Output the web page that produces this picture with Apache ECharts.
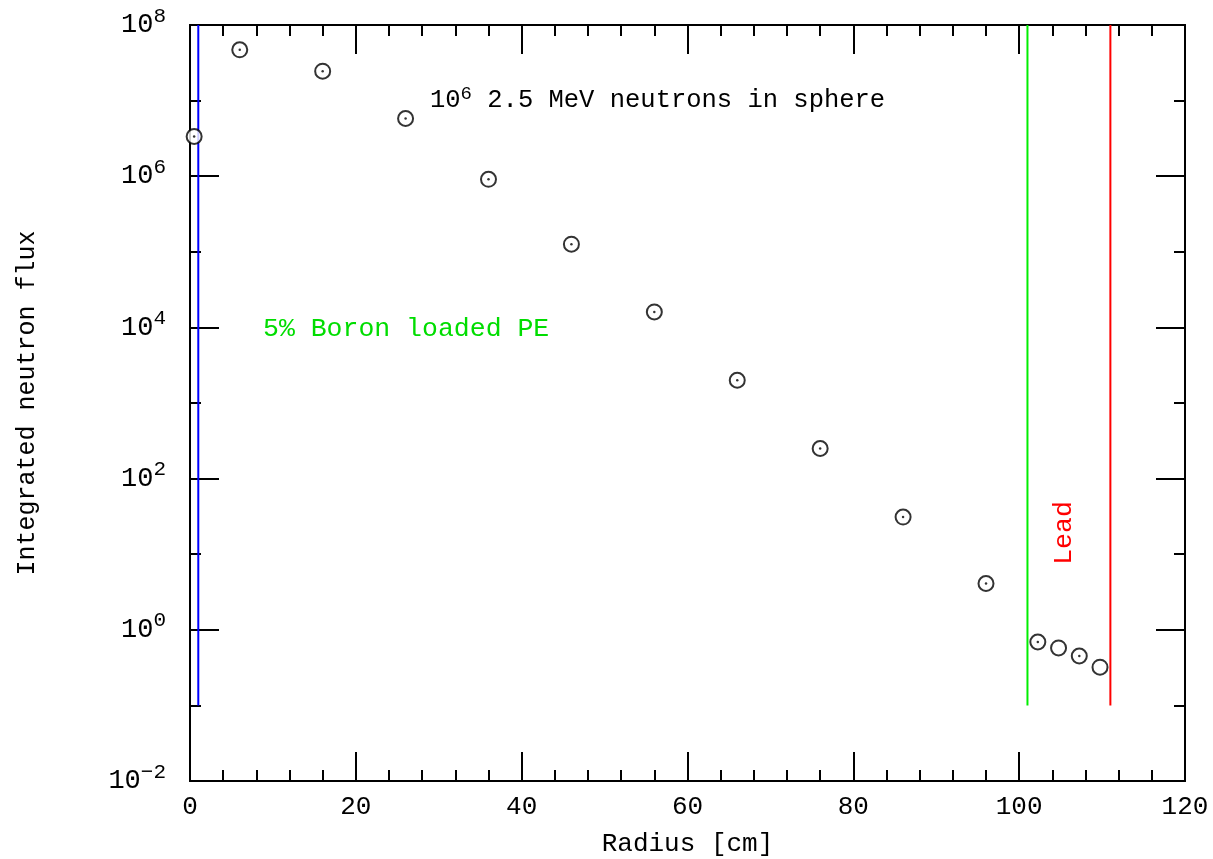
<!DOCTYPE html>
<html><head><meta charset="utf-8">
<script src="https://cdn.jsdelivr.net/npm/echarts@6/dist/echarts.min.js"></script>
<style>html,body{margin:0;padding:0;background:#fff}#c{width:1213px;height:859px}</style>
</head><body><div id="c"></div>
<script>
const radius = [0.5, 6, 16, 26, 36, 46, 56, 66, 76, 86, 96, 102.25, 104.75, 107.25, 109.75];
const flux = [3.35e6, 4.7e7, 2.45e7, 5.8e6, 9.1e5, 1.26e5, 1.6e4, 2.0e3, 250, 31, 4.1, 0.69, 0.575, 0.45, 0.32];
const centerDot = [1,1,1,1,1,1,1,1,1,1,1,1,0,1,0];
const boundaryX = [1, 101, 111];
const boundaryColor = ['#0000ff', '#00ee00', '#ff0000'];
const boundaryY = [0.1, 1e8];
const xTicks = {min: 0, max: 120, interval: 20};
const yRange = {min: 0.01, max: 1e8};

const FONT = 'Liberation Mono';
const chart = echarts.init(document.getElementById('c'), null, {renderer: 'canvas'});

const yLabel = v => {
  const e = Math.round(Math.log10(v));
  return '{b|10}{s|' + (e < 0 ? '\u2212' + (-e) : e) + '}';
};
const richY = {
  b: {fontFamily: FONT, fontSize: 27, color: '#000'},
  s: {fontFamily: FONT, fontSize: 21, color: '#000', padding: [0, 0, 18, 0]}
};
const lineStyle = {color: '#000', width: 2};

function yAx(pos, major) {
  return {
    type: 'log', logBase: 10, min: yRange.min, max: yRange.max, position: pos,
    interval: major ? 2 : 1,
    axisLine: {show: true, lineStyle},
    axisTick: {show: true, inside: true, length: major ? 29 : 11, lineStyle},
    axisLabel: {show: major && pos === 'left', formatter: yLabel, rich: richY, margin: 24},
    splitLine: {show: false},
    name: (major && pos === 'left') ? 'Integrated neutron flux' : '',
    nameLocation: 'middle', nameGap: 150, nameRotate: 90,
    nameTextStyle: {fontFamily: FONT, fontSize: 25, color: '#000'}
  };
}
function xAx(pos) {
  return {
    type: 'value', min: xTicks.min, max: xTicks.max, interval: xTicks.interval, position: pos,
    axisLine: {show: true, lineStyle},
    axisTick: {show: true, inside: true, length: 29, lineStyle},
    minorTick: {show: true, splitNumber: 5, length: 11, lineStyle},
    axisLabel: {show: pos === 'bottom', fontFamily: FONT, fontSize: 26, color: '#000', margin: 13},
    splitLine: {show: false}, minorSplitLine: {show: false},
    name: pos === 'bottom' ? 'Radius [cm]' : '',
    nameLocation: 'middle', nameGap: 50,
    nameTextStyle: {fontFamily: FONT, fontSize: 26, color: '#000'}
  };
}

const pts = radius.map((r, i) => [r, flux[i]]);
const dots = radius.map((r, i) => [r, flux[i]]).filter((p, i) => centerDot[i]);

const series = [];
boundaryX.forEach((x, i) => {
  series.push({
    type: 'line', xAxisIndex: 0, yAxisIndex: 0, symbol: 'none', silent: true,
    data: boundaryY.map(y => [x, y]),
    lineStyle: {color: boundaryColor[i], width: 2}, z: 1
  });
});
series.push({
  type: 'scatter', xAxisIndex: 0, yAxisIndex: 0, data: pts, symbol: 'circle', symbolSize: 15,
  itemStyle: {color: '#fff', borderColor: '#000', borderWidth: 2}, z: 3
});
series.push({
  type: 'scatter', xAxisIndex: 0, yAxisIndex: 0, data: dots, symbol: 'circle', symbolSize: 2.5,
  itemStyle: {color: '#000'}, z: 4
});

chart.setOption({
  animation: false,
  grid: {left: 190, right: 28, top: 25, bottom: 78, containLabel: false, outerBoundsMode: 'none'},
  xAxis: [xAx('bottom'), xAx('top')],
  yAxis: [yAx('left', true), yAx('left', false), yAx('right', true), yAx('right', false)],
  series,
  graphic: [
    {type: 'text', left: 430, top: 84, style: {
      text: '{b|10}{s|6}{b| 2.5 MeV neutrons in sphere}',
      rich: {b: {fontFamily: FONT, fontSize: 25.5, fill: '#000'}, s: {fontFamily: FONT, fontSize: 19, fill: '#000', padding: [0, 0, 14, 0]}}
    }},
    {type: 'text', left: 263, top: 315, style: {
      text: '5% Boron loaded PE', fontFamily: FONT, fontSize: 26.5, fill: '#00dd00'
    }},
    {type: 'text', x: 1064, y: 533, rotation: Math.PI / 2, style: {
      text: 'Lead', fontFamily: FONT, fontSize: 26.5, fill: '#ff0000', align: 'center', verticalAlign: 'middle'
    }}
  ]
});
</script></body></html>
